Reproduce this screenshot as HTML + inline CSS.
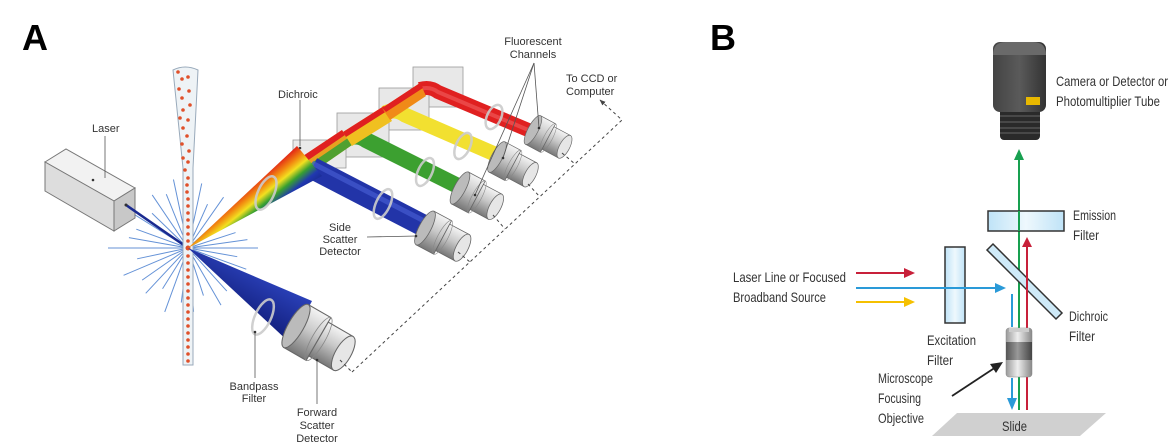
<!DOCTYPE html>
<html><head><meta charset="utf-8"><style>
html,body{margin:0;padding:0;background:#fff;}
svg{display:block;}
.t{font-family:"Liberation Sans",sans-serif;font-size:11px;fill:#333;}
.n{font-family:"Liberation Sans",sans-serif;font-size:13px;fill:#333;}
</style></head><body>
<svg width="1174" height="445" viewBox="0 0 1174 445" xmlns="http://www.w3.org/2000/svg">
<defs>
<linearGradient id="gray" x1="0" y1="0" x2="0" y2="1">
<stop offset="0" stop-color="#f4f4f4"/><stop offset="0.45" stop-color="#c8c8c8"/><stop offset="1" stop-color="#777"/></linearGradient>
<linearGradient id="rain" gradientUnits="userSpaceOnUse" x1="296" y1="146" x2="322" y2="178">
<stop offset="0" stop-color="#e01818"/><stop offset="0.25" stop-color="#f28a10"/><stop offset="0.42" stop-color="#f2e020"/><stop offset="0.6" stop-color="#38a030"/><stop offset="0.8" stop-color="#2038b0"/><stop offset="1" stop-color="#1a2a90"/></linearGradient>
<linearGradient id="fwd" gradientUnits="userSpaceOnUse" x1="310" y1="300" x2="285" y2="345">
<stop offset="0" stop-color="#2a40b8"/><stop offset="1" stop-color="#101c78"/></linearGradient>
<linearGradient id="cam" x1="0" y1="0" x2="1" y2="0">
<stop offset="0" stop-color="#444"/><stop offset="0.5" stop-color="#5a5a5a"/><stop offset="1" stop-color="#333"/></linearGradient>
<linearGradient id="glass" x1="0" y1="0" x2="1" y2="0">
<stop offset="0" stop-color="#bfe3f7"/><stop offset="0.5" stop-color="#eef8fd"/><stop offset="1" stop-color="#bfe3f7"/></linearGradient>
<linearGradient id="obj" x1="0" y1="0" x2="1" y2="0">
<stop offset="0" stop-color="#999"/><stop offset="0.45" stop-color="#eee"/><stop offset="1" stop-color="#888"/></linearGradient>
<linearGradient id="objd" x1="0" y1="0" x2="1" y2="0">
<stop offset="0" stop-color="#555"/><stop offset="0.45" stop-color="#999"/><stop offset="1" stop-color="#444"/></linearGradient>
<g id="det">
<rect x="0" y="-19" width="20" height="38" fill="url(#gray)" stroke="#666" stroke-width="0.8"/>
<ellipse cx="0" cy="0" rx="6" ry="19" fill="#bbb" stroke="#666" stroke-width="0.8"/>
<rect x="20" y="-15" width="22" height="30" fill="url(#gray)" stroke="#666" stroke-width="0.8"/>
<ellipse cx="20" cy="0" rx="5" ry="19" fill="none" stroke="#888" stroke-width="0.6"/>
<ellipse cx="42" cy="0" rx="6" ry="15" fill="#e6e6e6" stroke="#666" stroke-width="0.8"/>
</g>
<marker id="ar" viewBox="0 0 10 10" refX="9" refY="5" markerWidth="6" markerHeight="6" orient="auto"><path d="M0,1 L10,5 L0,9 Z" fill="#444"/></marker>
</defs>

<text x="22" y="50" font-family="Liberation Sans,sans-serif" font-weight="bold" font-size="36" fill="#000">A</text>
<text x="710" y="50" font-family="Liberation Sans,sans-serif" font-weight="bold" font-size="36" fill="#000">B</text>

<!-- ===== Panel A ===== -->
<g transform="translate(188,248)" stroke="#4a7fd0" stroke-width="1" opacity="0.85">
<line x2="70" transform="rotate(0)"/><line x2="50" transform="rotate(10)"/><line x2="62" transform="rotate(20)"/><line x2="45" transform="rotate(35)"/><line x2="58" transform="rotate(48)"/><line x2="66" transform="rotate(60)"/><line x2="50" transform="rotate(72)"/><line x2="64" transform="rotate(85)"/><line x2="55" transform="rotate(97)"/><line x2="68" transform="rotate(110)"/><line x2="48" transform="rotate(122)"/><line x2="62" transform="rotate(133)"/><line x2="56" transform="rotate(145)"/><line x2="70" transform="rotate(157)"/><line x2="52" transform="rotate(168)"/><line x2="80" transform="rotate(180)"/><line x2="60" transform="rotate(190)"/><line x2="55" transform="rotate(200)"/><line x2="66" transform="rotate(212)"/><line x2="50" transform="rotate(224)"/><line x2="64" transform="rotate(236)"/><line x2="58" transform="rotate(248)"/><line x2="70" transform="rotate(258)"/><line x2="52" transform="rotate(270)"/><line x2="66" transform="rotate(282)"/><line x2="48" transform="rotate(294)"/><line x2="62" transform="rotate(305)"/><line x2="55" transform="rotate(318)"/><line x2="64" transform="rotate(330)"/><line x2="50" transform="rotate(342)"/><line x2="60" transform="rotate(352)"/>
</g>
<polygon points="45,162 66,149 135,188 114,201" fill="#f2f2f2" stroke="#777" stroke-width="1"/>
<polygon points="45,162 114,201 114,231 45,191" fill="#ddd" stroke="#777" stroke-width="1"/>
<polygon points="114,201 135,188 135,218 114,231" fill="#c8c8c8" stroke="#777" stroke-width="1"/>
<line x1="126" y1="205" x2="188" y2="248" stroke="#1a2a90" stroke-width="2.5"/>
<circle cx="126" cy="205" r="1.5" fill="#333"/>
<circle cx="93" cy="180" r="1.3" fill="#333"/>
<line x1="105" y1="136" x2="105" y2="178" stroke="#555" stroke-width="0.8"/>
<text class="t" x="92" y="132">Laser</text>
<path d="M173,70 Q185,64 198,70 L193,168 L193,365 L183,365 L183,168 Z" fill="#eef3f6" stroke="#9ab" stroke-width="1"/>
<g fill="#e0502a">
<circle cx="178" cy="72" r="1.8"/><circle cx="182" cy="79" r="1.8"/><circle cx="188" cy="77" r="1.8"/><circle cx="179" cy="89" r="1.8"/><circle cx="189" cy="91" r="1.8"/><circle cx="182" cy="98" r="1.8"/><circle cx="190" cy="105" r="1.8"/><circle cx="183" cy="110" r="1.8"/><circle cx="180" cy="118" r="1.8"/><circle cx="188" cy="120" r="1.8"/><circle cx="183" cy="128" r="1.8"/><circle cx="187" cy="136" r="1.8"/><circle cx="182" cy="144" r="1.8"/><circle cx="189" cy="151" r="1.8"/><circle cx="183" cy="158" r="1.8"/><circle cx="188" cy="162" r="1.8"/><circle cx="185" cy="170" r="1.8"/><circle cx="188" cy="178" r="1.8"/><circle cx="187" cy="185" r="1.8"/><circle cx="187" cy="192" r="1.8"/><circle cx="188" cy="199" r="1.8"/><circle cx="188" cy="206" r="1.8"/><circle cx="188" cy="213" r="1.8"/><circle cx="188" cy="220" r="1.8"/><circle cx="188" cy="227" r="1.8"/><circle cx="188" cy="234" r="1.8"/><circle cx="188" cy="241" r="1.8"/><circle cx="188" cy="248" r="2.5"/><circle cx="188" cy="256" r="1.8"/><circle cx="188" cy="263" r="1.8"/><circle cx="188" cy="270" r="1.8"/><circle cx="188" cy="277" r="1.8"/><circle cx="188" cy="284" r="1.8"/><circle cx="188" cy="291" r="1.8"/><circle cx="188" cy="298" r="1.8"/><circle cx="188" cy="305" r="1.8"/><circle cx="188" cy="312" r="1.8"/><circle cx="188" cy="319" r="1.8"/><circle cx="188" cy="326" r="1.8"/><circle cx="188" cy="333" r="1.8"/><circle cx="188" cy="340" r="1.8"/><circle cx="188" cy="347" r="1.8"/><circle cx="188" cy="354" r="1.8"/><circle cx="188" cy="361" r="1.8"/>
</g>

<rect x="413" y="67" width="50" height="40" fill="#e8e8e8" stroke="#999" stroke-width="0.8"/>
<rect x="379" y="88" width="50" height="42" fill="#e8e8e8" stroke="#999" stroke-width="0.8"/>
<rect x="337" y="113" width="52" height="44" fill="#e8e8e8" stroke="#999" stroke-width="0.8"/>
<rect x="293" y="140" width="53" height="28" fill="#eaeaea" stroke="#999" stroke-width="0.8"/>
<circle cx="300" cy="148" r="1.3" fill="#333"/>
<line x1="300" y1="100" x2="300" y2="146" stroke="#555" stroke-width="0.8"/>
<text class="t" x="278" y="98">Dichroic</text>

<path d="M420,89 Q430,86 438,92 L533,132" fill="none" stroke="#e02020" stroke-width="14"/>
<path d="M420,89 Q430,86 438,92 L533,132" fill="none" stroke="#f06060" stroke-width="4" opacity="0.6"/>
<path d="M385,113 Q395,108 405,115 L497,155" fill="none" stroke="#f2e030" stroke-width="15"/>
<path d="M348,138 Q358,134 366,140 L462,188" fill="none" stroke="#3ca030" stroke-width="16"/>
<polygon points="300,158 342,130 352,145 313,172" fill="#e8a020"/>
<polygon points="300,158 342,130 345,135 304,163" fill="#e02020"/>
<polygon points="307,166 348,138 352,145 313,172" fill="#50a030"/>
<polygon points="343,132 384,106 392,121 352,146" fill="#f0c020"/>
<polygon points="343,132 384,106 387,111 346,137" fill="#e02020"/>
<polygon points="382,108 420,83 426,96 390,120" fill="#f08a18"/>
<polygon points="382,108 420,83 423,88 386,112" fill="#e02020"/>
<line x1="312" y1="168" x2="428" y2="228" stroke="#2234a8" stroke-width="22"/>
<line x1="312" y1="163" x2="428" y2="223" stroke="#4a62d8" stroke-width="5" opacity="0.6"/>
<polygon points="188,248 297,146 322,176" fill="url(#rain)"/>
<polygon points="188,248 312,301 290,343" fill="url(#fwd)"/>
<g fill="none" stroke="#ccc" stroke-width="2.5" opacity="0.9">
<ellipse cx="266" cy="193" rx="8" ry="18" transform="rotate(25 266 193)"/>
<ellipse cx="383" cy="204" rx="7" ry="16" transform="rotate(25 383 204)"/>
<ellipse cx="425" cy="172" rx="7" ry="15" transform="rotate(25 425 172)"/>
<ellipse cx="463" cy="146" rx="7" ry="14" transform="rotate(25 463 146)"/>
<ellipse cx="494" cy="117" rx="7" ry="13" transform="rotate(25 494 117)"/>
<ellipse cx="263" cy="317" rx="8" ry="19" transform="rotate(25 263 317)"/>
</g>
<use href="#det" transform="translate(533,130) rotate(28) scale(0.85)"/>
<use href="#det" transform="translate(497,157) rotate(28) scale(0.9)"/>
<use href="#det" transform="translate(460,188) rotate(28) scale(0.95)"/>
<use href="#det" transform="translate(425,228) rotate(28)"/>
<use href="#det" transform="translate(296,326) rotate(30) scale(1.3)"/>
<g stroke="#444" stroke-width="1" stroke-dasharray="3,3" fill="none">
<polyline points="352,372 622,120 600,100" marker-end="url(#ar)"/>
<line x1="340" y1="360" x2="352" y2="372"/>
<line x1="458" y1="252" x2="470" y2="262"/>
<line x1="493" y1="215" x2="505" y2="229"/>
<line x1="528" y1="184" x2="540" y2="197"/>
<line x1="562" y1="153" x2="575" y2="164"/>
</g>
<g stroke="#555" stroke-width="0.8">
<line x1="367" y1="237" x2="416" y2="236"/>
<line x1="255" y1="332" x2="255" y2="378"/>
<line x1="317" y1="360" x2="317" y2="404"/>
<line x1="534" y1="63" x2="475" y2="195"/>
<line x1="534" y1="63" x2="503" y2="158"/>
<line x1="534" y1="63" x2="539" y2="128"/>
</g>
<g fill="#333"><circle cx="416" cy="236" r="1.3"/><circle cx="255" cy="332" r="1.3"/><circle cx="317" cy="360" r="1.3"/><circle cx="475" cy="195" r="1.3"/><circle cx="503" cy="158" r="1.3"/><circle cx="539" cy="128" r="1.3"/></g>
<g class="t" text-anchor="middle">
<text x="340" y="231">Side</text><text x="340" y="243">Scatter</text><text x="340" y="255">Detector</text>
<text x="254" y="390">Bandpass</text><text x="254" y="402">Filter</text>
<text x="317" y="416">Forward</text><text x="317" y="429">Scatter</text><text x="317" y="442">Detector</text>
<text x="533" y="45">Fluorescent</text><text x="533" y="58">Channels</text>
</g>
<text class="t" x="566" y="82">To CCD or</text>
<text class="t" x="566" y="95">Computer</text>

<!-- ===== Panel B ===== -->
<rect x="1000" y="108" width="40" height="32" rx="4" fill="#2a2a2a"/>
<g stroke="#666" stroke-width="1"><line x1="1000" y1="116" x2="1040" y2="116"/><line x1="1000" y1="122" x2="1040" y2="122"/><line x1="1000" y1="128" x2="1040" y2="128"/><line x1="1000" y1="133" x2="1040" y2="133"/></g>
<rect x="993" y="42" width="53" height="70" rx="7" fill="url(#cam)"/>
<path d="M993,55 Q993,42 1006,42 L1033,42 Q1046,42 1046,55 Z" fill="#6a6a6a"/>
<rect x="1026" y="97" width="14" height="8" fill="#e8b800"/>
<g class="n" style="font-size:14px">
<text x="1056" y="86" textLength="112" lengthAdjust="spacingAndGlyphs">Camera or Detector or</text>
<text x="1056" y="106" textLength="104" lengthAdjust="spacingAndGlyphs">Photomultiplier Tube</text>
<text x="1073" y="220" textLength="43" lengthAdjust="spacingAndGlyphs">Emission</text>
<text x="1073" y="240" textLength="26" lengthAdjust="spacingAndGlyphs">Filter</text>
<text x="1069" y="321" textLength="39" lengthAdjust="spacingAndGlyphs">Dichroic</text>
<text x="1069" y="341" textLength="26" lengthAdjust="spacingAndGlyphs">Filter</text>
<text x="927" y="345" textLength="49" lengthAdjust="spacingAndGlyphs">Excitation</text>
<text x="927" y="365" textLength="26" lengthAdjust="spacingAndGlyphs">Filter</text>
<text x="733" y="282" textLength="113" lengthAdjust="spacingAndGlyphs">Laser Line or  Focused</text>
<text x="733" y="302" textLength="93" lengthAdjust="spacingAndGlyphs">Broadband Source</text>
<text x="878" y="383" textLength="55" lengthAdjust="spacingAndGlyphs">Microscope</text>
<text x="878" y="403" textLength="43" lengthAdjust="spacingAndGlyphs">Focusing</text>
<text x="878" y="423" textLength="46" lengthAdjust="spacingAndGlyphs">Objective</text>
</g>
<line x1="1019" y1="378" x2="1019" y2="158" stroke="#18a050" stroke-width="2"/>
<polygon points="1014,160 1019,149 1024,160" fill="#18a050"/>
<rect x="988" y="211" width="76" height="20" fill="url(#glass)" stroke="#333" stroke-width="1.5"/>
<line x1="1019" y1="211" x2="1019" y2="231" stroke="#18a050" stroke-width="2"/>
<polygon points="987,250 993,244 1062,313 1056,319" fill="#cfeaf8" stroke="#333" stroke-width="1.5"/>
<line x1="1027" y1="378" x2="1027" y2="245" stroke="#c8203a" stroke-width="2"/>
<polygon points="1022,247 1027,237 1032,247" fill="#c8203a"/>
<rect x="945" y="247" width="20" height="76" fill="url(#glass)" stroke="#333" stroke-width="1.5"/>
<line x1="856" y1="273" x2="906" y2="273" stroke="#c8203a" stroke-width="2"/>
<polygon points="904,268 915,273 904,278" fill="#c8203a"/>
<line x1="856" y1="288" x2="997" y2="288" stroke="#2a9ad8" stroke-width="2"/>
<polygon points="995,283 1006,288 995,293" fill="#2a9ad8"/>
<line x1="856" y1="302" x2="906" y2="302" stroke="#f5c000" stroke-width="2"/>
<polygon points="904,297 915,302 904,307" fill="#f5c000"/>
<line x1="1012" y1="294" x2="1012" y2="327" stroke="#2a9ad8" stroke-width="2"/>
<line x1="1012" y1="378" x2="1012" y2="400" stroke="#2a9ad8" stroke-width="2"/>
<polygon points="1007,398 1012,410 1017,398" fill="#2a9ad8"/>
<line x1="1019" y1="378" x2="1019" y2="410" stroke="#18a050" stroke-width="2"/>
<line x1="1027" y1="378" x2="1027" y2="410" stroke="#c8203a" stroke-width="2"/>
<rect x="1006" y="328" width="26" height="49" rx="3" fill="url(#obj)" stroke="#888" stroke-width="0.5"/>
<rect x="1006" y="342" width="26" height="18" fill="url(#objd)"/>
<rect x="1009" y="328" width="20" height="4" fill="#ccc"/>
<line x1="952" y1="396" x2="996" y2="367" stroke="#222" stroke-width="1.8"/>
<polygon points="1003,362 990,364 996,373" fill="#222"/>
<polygon points="932,436 957,413 1106,413 1080,436" fill="#d0d0d0"/>
<text class="n" x="1002" y="431" style="font-size:14px" textLength="25" lengthAdjust="spacingAndGlyphs">Slide</text>
</svg>
</body></html>
